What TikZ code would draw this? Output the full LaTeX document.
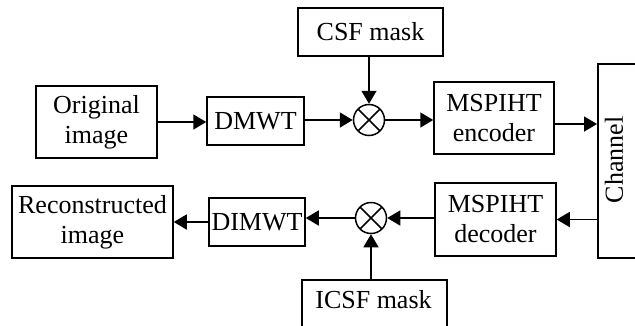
\documentclass[tikz,border=0pt]{standalone}
\usepackage{fontspec}
\setmainfont{Liberation Serif}
\usetikzlibrary{arrows.meta}
\begin{document}
\begin{tikzpicture}[x=1pt,y=-1pt,
  every node/.style={font=\fontsize{26}{30}\selectfont},
  blk/.style={draw,line width=1.5pt,inner sep=0pt,align=center},
  mult/.style={draw,line width=1.5pt,circle,minimum size=31pt,inner sep=0pt,
    path picture={\draw[line width=1.5pt] (path picture bounding box.north west)--(path picture bounding box.south east)
      (path picture bounding box.north east)--(path picture bounding box.south west);}},
  arr/.style={line width=1.5pt,-{Triangle[length=13pt,width=15pt]}}]
\useasboundingbox (0,0) rectangle (635,325);
\node[blk,minimum width=121pt,minimum height=72pt] (orig) at (96.5,122) {Original\\image};
\node[blk,minimum width=97pt,minimum height=48pt] (dmwt) at (255.5,121) {DMWT};
\node[blk,minimum width=145pt,minimum height=48pt] (csf) at (370.5,32) {CSF mask};
\node[mult] (m1) at (369,120) {};
\node[blk,minimum width=120pt,minimum height=72pt] (enc) at (494,118) {MSPIHT\\encoder};
\node[blk,minimum width=50pt,minimum height=194pt,anchor=north west] (chan) at (597,63) {};
\node[rotate=90] (chantext) at (614,160) {Channel};
\node[blk,minimum width=121pt,minimum height=73pt] (dec) at (495.5,219.5) {MSPIHT\\decoder};
\node[mult] (m2) at (371,218) {};
\node[blk,minimum width=96pt,minimum height=48pt] (dimwt) at (257,222) {DIMWT};
\node[blk,minimum width=161pt,minimum height=72pt] (rec) at (92.5,222) {Reconstructed\\image};
\node[blk,minimum width=145pt,minimum height=56pt,anchor=north west] (icsf) at (301,279) {};
\node (icsftext) at (373.5,300) {ICSF mask};

\draw[arr] (orig.east) -- (orig.east -| dmwt.west);
\draw[arr] (dmwt.east |- m1) -- (m1.west);
\draw[arr] (csf.south -| m1) -- (m1.north);
\draw[arr] (m1.east) -- (m1 -| enc.west);
\draw[arr] ([yshift=-6pt]enc.east) -- ([yshift=-6pt]enc.east -| chan.west);
\draw[arr] (dec.east -| chan.west) -- (dec.east);
\draw[arr] (dec.west |- m2) -- (m2.east);
\draw[arr] (icsf.north -| m2) -- (m2.south);
\draw[arr] (m2.west) -- (m2.west -| dimwt.east);
\draw[arr] (dimwt.west) -- (dimwt.west -| rec.east);
\end{tikzpicture}
\end{document}
